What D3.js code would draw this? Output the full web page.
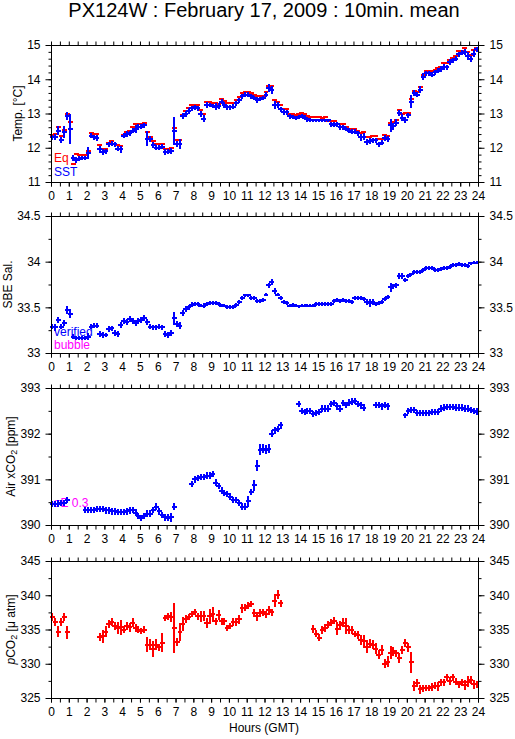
<!DOCTYPE html>
<html>
<head>
<meta charset="utf-8">
<script src="https://cdn.jsdelivr.net/npm/d3@7"></script>
<style>
body { margin: 0; background: #fff; }
svg text { font-family: "Liberation Sans", Arial, Helvetica, sans-serif; }
</style>
</head>
<body>
<div id="chart"></div>
<script>
// Global Variables :
var width = 515,
    height = 739;

var plot_left = 51,
    plot_right = 478;

var panel_tops = [45, 216, 388, 561],
    panel_h = 137;

var hour_ticks = d3.range(0, 25);

var temp_ticks = [11, 12, 13, 14, 15],
    sal_ticks = [33, 33.5, 34, 34.5],
    xco2_ticks = [390, 391, 392, 393],
    pco2_ticks = [325, 330, 335, 340, 345];

// 10 minute means, one row per hour
var sst = [
  12.30, 12.31, 12.50, 12.23, 12.45, 12.93,
  12.55, 11.70, 11.65, 11.68, 11.70, 11.70,
  11.85, 12.35, 12.30, 12.28, 11.95, 11.88,
  11.90, 12.10, 12.12, 12.10, 11.97, 11.95,
  12.35, 12.40, 12.42, 12.50, 12.55, 12.60,
  12.62, 12.65, 12.27, 12.25, 12.07, 12.00,
  12.00, 12.03, 11.88, 11.88, 11.90, 12.50,
  12.10, 12.12, 12.92, 12.98, 13.07, 13.15,
  13.18, 13.15, 12.98, 12.85, 13.25, 13.25,
  13.22, 13.20, 13.22, 13.35, 13.25, 13.18,
  13.18, 13.20, 13.30, 13.38, 13.50, 13.55,
  13.55, 13.50, 13.45, 13.40, 13.42, 13.45,
  13.55, 13.75, 13.68, 13.25, 13.25, 13.12,
  13.05, 13.03, 12.92, 12.90, 12.87, 12.90,
  12.93, 12.88, 12.83, 12.80, 12.80, 12.80,
  12.80, 12.80, 12.80, 12.80, 12.68, 12.67,
  12.68, 12.60, 12.60, 12.55, 12.50, 12.47,
  12.47, 12.42, 12.30, 12.32, 12.18, 12.20,
  12.22, 12.22, 12.10, 12.15, 12.28, 12.25,
  12.65, 12.63, 12.73, 13.02, 12.88, 12.82,
  12.95, 13.35, 13.60, 13.55, 13.70, 14.08,
  14.17, 14.17, 14.13, 14.20, 14.25, 14.30,
  14.37, 14.35, 14.50, 14.55, 14.60, 14.73,
  14.78, 14.80, 14.68, 14.60, 14.75, 14.87
];
var sst_sd = [
  .05,.05,.10,.05,.15,.08,  .40,.05,.06,.05,.04,.04,
  .15,.05,.04,.05,.08,.05,  .04,.05,.05,.05,.05,.08,
  .05,.05,.05,.05,.08,.05,  .04,.05,.18,.06,.06,.05,
  .05,.04,.05,.04,.05,.38,  .06,.12,.06,.05,.05,.05,
  .05,.05,.05,.08,.05,.04,  .04,.07,.07,.05,.05,.05,
  .05,.05,.05,.05,.05,.05,  .05,.05,.04,.05,.04,.04,
  .05,.08,.08,.08,.05,.05,  .05,.04,.04,.04,.04,.04,
  .04,.04,.04,.03,.02,.02,  .02,.02,.02,.02,.04,.04,
  .04,.04,.04,.04,.04,.04,  .04,.05,.07,.07,.06,.05,
  .04,.04,.05,.05,.05,.06,  .15,.07,.08,.05,.07,.06,
  .05,.15,.06,.05,.06,.08,  .05,.04,.04,.05,.04,.05,
  .06,.05,.05,.05,.05,.05,  .05,.05,.10,.06,.07,.05
];
var teq = [
  12.38, 12.40, 12.60, 12.33, 12.52, 13.00,
  12.75, 11.52, 11.83, 11.80, 11.80, 11.78,
  11.90, 12.42, 12.40, 12.40, 12.07, 11.97,
  11.97, 12.15, 12.20, 12.10, 12.07, 12.05,
  12.38, 12.45, 12.50, 12.60, 12.68, 12.68,
  12.70, 12.73, 12.45, 12.30, 12.20, 12.12,
  12.12, 12.10, 11.97, 11.97, 11.98, 12.57,
  12.23, 12.23, 12.97, 13.07, 13.15, 13.25,
  13.25, 13.25, 13.10, 13.00, 13.33, 13.33,
  13.30, 13.30, 13.28, 13.42, 13.37, 13.30,
  13.30, 13.32, 13.40, 13.48, 13.60, 13.63,
  13.63, 13.60, 13.55, 13.50, 13.50, 13.52,
  13.62, 13.80, 13.80, 13.40, 13.35, 13.25,
  13.13, 13.13, 13.00, 12.98, 12.97, 13.00,
  13.02, 12.98, 12.92, 12.90, 12.90, 12.90,
  12.90, 12.88, 12.90, 12.77, 12.77, 12.78,
  12.70, 12.70, 12.70, 12.62, 12.55, 12.55,
  12.55, 12.50, 12.42, 12.45, 12.30, 12.30,
  12.33, 12.33, 12.25, 12.25, 12.38, 12.35,
  12.72, 12.75, 12.80, 13.10, 13.00, 13.02,
  13.02, 13.42, 13.65, 13.63, 13.78, 14.13,
  14.25, 14.25, 14.23, 14.27, 14.32, 14.37,
  14.47, 14.47, 14.57, 14.63, 14.68, 14.83,
  14.83, 14.92, 14.80, 14.72, 14.85, 14.90
];

var sal = [
  33.29, 33.28, 33.36, 33.29, 33.33, 33.47,
  33.43, 33.18, 33.16, 33.16, 33.16, 33.16,
  33.18, 33.29, 33.30, 33.30, 33.21, 33.20,
  33.20, 33.26, 33.27, 33.22, 33.21, 33.31,
  33.35, 33.34, 33.37, 33.35, 33.33, 33.35,
  33.36, 33.38, 33.34, 33.29, 33.28, 33.28,
  33.29, 33.28, 33.21, 33.20, 33.22, 33.38,
  33.32, 33.30, 33.44, 33.48, 33.50, 33.53,
  33.54, 33.54, 33.52, 33.52, 33.54, 33.55,
  33.55, 33.55, 33.54, 33.52, 33.52, 33.50,
  33.50, 33.50, 33.53, 33.56, 33.60, 33.63,
  33.63, 33.60, 33.60, 33.57, 33.57, 33.58,
  33.64, 33.74, 33.78, 33.68, 33.64, 33.60,
  33.56, 33.55, 33.52, 33.53, 33.52, 33.51,
  33.52, 33.52, 33.52, 33.52, 33.52, 33.54,
  33.54, 33.54, 33.54, 33.54, 33.54, 33.57,
  33.58, 33.57, 33.58, 33.57, 33.57, 33.56,
  33.60, 33.60, 33.60, 33.59, 33.56, 33.55,
  33.56, 33.54, 33.55, 33.56, 33.59, 33.61,
  33.72, 33.73, 33.74, 33.84, 33.84, 33.80,
  33.84, 33.86, 33.89, 33.89, 33.89, 33.91,
  33.93, 33.93, 33.93, 33.91, 33.91, 33.92,
  33.93, 33.93, 33.94, 33.96, 33.96, 33.97,
  33.96, 33.96, 33.95, 33.98, 33.99, 33.99
];
var sal_sd = [
  .02,.03,.02,.02,.02,.03,  .04,.02,.01,.01,.01,.01,
  .03,.02,.02,.02,.02,.02,  .01,.02,.02,.02,.02,.02,
  .02,.02,.02,.02,.02,.02,  .02,.02,.02,.02,.02,.02,
  .02,.02,.02,.02,.02,.06,  .02,.03,.02,.02,.02,.02,
  .01,.01,.01,.02,.01,.01,  .01,.01,.01,.01,.01,.01,
  .01,.01,.01,.01,.01,.01,  .01,.01,.01,.01,.01,.01,
  .01,.02,.02,.02,.01,.01,  .01,.01,.01,.01,.01,.01,
  .01,.01,.01,.01,.01,.01,  .01,.01,.01,.01,.01,.01,
  .01,.01,.01,.01,.01,.01,  .01,.01,.01,.01,.02,.03,
  .02,.01,.01,.01,.01,.01,  .04,.02,.02,.02,.02,.01,
  .01,.01,.01,.01,.01,.01,  .01,.01,.01,.01,.01,.01,
  .01,.01,.01,.01,.01,.01,  .01,.01,.01,.01,.01,.01
];

var xco2 = [
  390.46, 390.46, 390.47, 390.48, 390.48, 390.55,
  null, null, null, null, null, 390.33,
  390.33, 390.33, 390.33, 390.35, 390.35, 390.35,
  390.32, 390.32, 390.30, 390.30, 390.28, 390.28,
  390.28, 390.30, 390.32, 390.33, 390.27, 390.20,
  390.15, 390.20, 390.25, 390.25, 390.33, 390.40,
  390.30, 390.22, 390.17, 390.16, 390.17, 390.40,
  null, null, null, null, null, 390.90,
  391.00, 391.03, 391.05, 391.05, 391.08, 391.08,
  391.12, 390.93, 390.85, 390.75, 390.70, 390.68,
  390.62, 390.55, 390.55, 390.48, 390.40, 390.40,
  390.52, 390.72, 390.87, 391.30, 391.65, 391.67,
  391.65, 391.67, 392.00, 392.07, 392.10, 392.18,
  null, null, null, null, null, 392.65,
  392.50, 392.47, 392.50, 392.50, 392.43, 392.45,
  392.47, 392.55, 392.55, 392.55, 392.65, 392.67,
  392.60, 392.55, 392.67, 392.63, 392.68, 392.70,
  392.72, 392.65, 392.62, 392.57, null, null,
  null, 392.63, 392.63, 392.60, 392.63, 392.60,
  null, null, null, null, null, 392.40,
  392.50, 392.52, 392.52, 392.45, 392.45, 392.45,
  392.45, 392.45, 392.47, 392.47, 392.47, 392.55,
  392.57, 392.58, 392.58, 392.58, 392.57, 392.57,
  392.57, 392.55, 392.55, 392.52, 392.50, 392.48
];
var xco2_sd = [
  .05,.05,.05,.05,.05,.05,  null,null,null,null,null,.05,
  .05,.05,.05,.05,.05,.05,  .05,.05,.05,.05,.05,.05,
  .05,.05,.05,.05,.05,.05,  .05,.05,.05,.05,.05,.05,
  .05,.05,.05,.05,.08,.05,  null,null,null,null,null,.05,
  .05,.05,.05,.05,.05,.05,  .05,.05,.05,.05,.05,.05,
  .05,.05,.05,.05,.05,.05,  .10,.05,.10,.10,.10,.08,
  .08,.08,.05,.05,.05,.05,  null,null,null,null,null,.05,
  .05,.05,.05,.05,.05,.05,  .05,.05,.05,.05,.05,.05,
  .05,.05,.05,.05,.05,.05,  .05,.05,.05,.05,null,null,
  null,.05,.05,.05,.05,.05,  null,null,null,null,null,.04,
  .05,.05,.05,.05,.05,.05,  .05,.05,.05,.05,.05,.05,
  .05,.05,.05,.05,.05,.05,  .05,.05,.05,.05,.05,.05
];

var pco2 = [
  336.8, 336.1, 334.7, 336.1, 336.8, 334.6,
  null, null, null, null, null, null,
  null, null, null, null, 333.9, 334.0,
  334.7, 335.8, 336.1, 335.5, 335.2, 335.3,
  335.0, 335.5, 335.3, 336.0, 335.2, 335.0,
  334.8, 335.0, 332.8, 332.8, 332.2, 332.8,
  332.4, 333.1, 336.7, 336.9, 336.8, 335.2,
  333.2, 334.6, 335.8, 336.5, 336.8, 337.3,
  337.6, 336.9, 336.9, 337.0, 336.0, 336.9,
  337.2, 336.2, 337.1, 336.2, 336.2, 335.2,
  335.5, 336.1, 336.1, 336.5, 338.1, 338.2,
  338.5, 338.7, 337.4, 336.9, 337.4, 337.5,
  337.2, 337.8, 337.5, 339.2, 340.1, 338.8,
  null, null, null, null, null, null,
  null, null, null, null, 335.1, 334.4,
  333.8, 334.9, 335.2, 335.7, 336.0, 336.3,
  335.1, 335.6, 336.0, 335.5, 334.9, 334.9,
  334.4, 334.2, 333.5, 333.3, 332.5, 332.9,
  332.8, 332.2, 331.3, 332.0, 330.0, 330.3,
  331.6, 331.8, 331.5, 330.8, 332.0, 333.0,
  332.4, 330.2, 326.8, 327.2, 326.3, 326.4,
  326.4, 326.4, 326.6, 326.8, 326.7, 327.3,
  327.3, 328.0, 327.5, 328.0, 327.4, 327.0,
  327.3, 326.9, 327.4, 327.6, 327.0, 327.0
];
var pco2_sd = [
  .4,.4,.7,.5,.4,.8,  null,null,null,null,null,null,
  null,null,null,null,.4,.8,  .7,.5,.4,.4,.7,.9,
  .3,.4,.5,.5,.4,.4,  .3,.3,1.0,.7,1.0,.7,
  .4,1.2,.3,.3,.6,3.5,  .4,1.2,.9,.4,.3,.3,
  .3,.3,.6,.6,.6,1.0,  1.0,.4,.6,.4,.4,.3,
  .3,.4,.4,.5,.5,.4,  .3,.3,.4,.5,.4,.4,
  .4,.5,.4,.8,.5,.4,  null,null,null,null,null,null,
  null,null,null,null,.4,.4,  .4,.4,.4,.4,.4,.4,
  .8,.5,.5,1.0,.4,.4,  .3,.4,.6,.8,.8,.5,
  .5,.7,.5,.6,.5,.7,  .8,.5,.4,.6,.5,.4,
  .5,1.4,.6,.5,.5,.4,  .3,.3,.4,.4,.5,.4,
  .4,.4,.4,.4,.4,.4,  .4,.6,.6,.4,.5,.4
];

var title_text = "PX124W : February 17, 2009 : 10min. mean";

// Svg :
var svg = d3.select("#chart").append("svg")
  .attr("width", width)
  .attr("height", height);

svg.append("rect").attr("width", width).attr("height", height).attr("fill", "white");

var x = d3.scaleLinear().domain([0, 24]).range([plot_left, plot_right]);

svg.append("text")
  .attr("x", 264).attr("y", 17)
  .attr("text-anchor", "middle")
  .attr("font-size", 20)
  .text(title_text);

svg.append("text")
  .attr("x", 264).attr("y", 732)
  .attr("text-anchor", "middle")
  .attr("font-size", 12)
  .text("Hours (GMT)");

function minor_range(a, b, step) {
  var out = [];
  for (var v = a; v <= b + 1e-9; v += step) out.push(v);
  return out;
}

function clean_axis(g) {
  g.select(".domain").remove();
  g.attr("font-size", 12).attr("font-family", null);
  g.selectAll("line").attr("stroke", "black");
}

function draw_axes(g, y, top, ticks, minor) {
  var fmt = function(d) { return String(d); };

  g.append("g").attr("transform", "translate(" + (plot_left + 0.5) + ",0)")
    .call(d3.axisLeft(y).tickValues(minor).tickSize(3).tickFormat(""))
    .call(clean_axis);
  g.append("g").attr("transform", "translate(" + (plot_left + 0.5) + ",0)")
    .call(d3.axisLeft(y).tickValues(ticks).tickSize(6).tickPadding(5).tickFormat(fmt))
    .call(clean_axis);
  g.append("g").attr("transform", "translate(" + (plot_right + 0.5) + ",0)")
    .call(d3.axisRight(y).tickValues(minor).tickSize(3).tickFormat(""))
    .call(clean_axis);
  g.append("g").attr("transform", "translate(" + (plot_right + 0.5) + ",0)")
    .call(d3.axisRight(y).tickValues(ticks).tickSize(6).tickPadding(5).tickFormat(fmt))
    .call(clean_axis);

  g.append("g").attr("transform", "translate(0," + (top + 0.5) + ")")
    .call(d3.axisTop(x).tickValues(minor_range(0, 24, 0.5)).tickSize(4).tickFormat(""))
    .call(clean_axis);
  g.append("g").attr("transform", "translate(0," + (top + panel_h + 0.5) + ")")
    .call(d3.axisBottom(x).tickValues(minor_range(0, 24, 0.5)).tickSize(4).tickFormat(""))
    .call(clean_axis);
  g.append("g").attr("transform", "translate(0," + (top + panel_h + 0.5) + ")")
    .call(d3.axisBottom(x).tickValues(hour_ticks).tickSize(4).tickPadding(5).tickFormat(fmt))
    .call(clean_axis);

  g.append("rect")
    .attr("x", plot_left + 0.5).attr("y", top + 0.5)
    .attr("width", plot_right - plot_left).attr("height", panel_h)
    .attr("fill", "none").attr("stroke", "black");
}

// each 10 min mean : horizontal bar over the interval, vertical bar = std dev
function draw_series(g, y, values, sd, color) {
  var pts = values.map(function(v, i) {
      return {t: i / 6, v: v, e: sd ? sd[i] : 0};
    })
    .filter(function(d) { return d.v != null; });

  g.append("g").selectAll("path")
    .data(pts)
    .enter().append("path")
    .attr("d", function(d) {
      var x0 = Math.round(x(d.t)),
          x1 = Math.round(x(d.t + 1 / 6)),
          xc = Math.round(x(d.t + 1 / 12)),
          yv = Math.round(y(d.v));
      var s = "M" + x0 + "," + yv + "H" + x1;
      if (d.e > 0) {
        s += "M" + xc + "," + Math.round(y(d.v + d.e)) + "V" + Math.round(y(d.v - d.e));
      }
      return s;
    })
    .attr("fill", "none")
    .attr("stroke", color)
    .attr("stroke-width", 2)
    .attr("stroke-linecap", "square")
    .attr("shape-rendering", "crispEdges");
}

function y_title(g, cx, cy, parts) {
  var t = g.append("text")
    .attr("transform", "translate(" + cx + "," + cy + ") rotate(-90)")
    .attr("text-anchor", "middle")
    .attr("font-size", 12);
  parts.forEach(function(p) {
    var s = t.append("tspan").text(p.text);
    if (p.sub) s.attr("baseline-shift", "-25%").attr("font-size", 9);
    if (p.italic) s.attr("font-style", "italic");
  });
}

function legend_text(g, x0, y0, txt, color) {
  g.append("text").attr("x", x0).attr("y", y0)
    .attr("font-size", 12).attr("fill", color).text(txt);
}

// Panel 1 : temperature
(function() {
  var top = panel_tops[0];
  var y = d3.scaleLinear().domain([11, 15]).range([top + panel_h, top]);
  var g = svg.append("g");
  legend_text(g, 54, 162, "Eq", "#ff0000");
  legend_text(g, 54, 176, "SST", "#0000ff");
  draw_series(g, y, teq, null, "#ff0000");
  draw_series(g, y, sst, sst_sd, "#0000ff");
  draw_axes(g, y, top, temp_ticks, minor_range(11, 15, 0.2));
  y_title(g, 22, top + panel_h / 2, [{text: "Temp. [°C]"}]);
})();

// Panel 2 : salinity
(function() {
  var top = panel_tops[1];
  var y = d3.scaleLinear().domain([33, 34.5]).range([top + panel_h, top]);
  var g = svg.append("g");
  legend_text(g, 54, 336, "verified", "#0000ff");
  legend_text(g, 54, 349, "bubble", "#ff00ff");
  draw_series(g, y, sal, sal_sd, "#0000ff");
  draw_axes(g, y, top, sal_ticks, minor_range(33, 34.5, 0.25));
  y_title(g, 12, top + panel_h / 2, [{text: "SBE Sal."}]);
})();

// Panel 3 : air xCO2
(function() {
  var top = panel_tops[2];
  var y = d3.scaleLinear().domain([390, 393]).range([top + panel_h, top]);
  var g = svg.append("g");
  legend_text(g, 53, 507, "σE 0.3", "#ff00ff");
  draw_series(g, y, xco2, xco2_sd, "#0000ff");
  draw_axes(g, y, top, xco2_ticks, minor_range(390, 393, 0.5));
  y_title(g, 15, top + panel_h / 2, [{text: "Air xCO"}, {text: "2", sub: true}, {text: " [ppm]"}]);
})();

// Panel 4 : pCO2
(function() {
  var top = panel_tops[3];
  var y = d3.scaleLinear().domain([325, 345]).range([top + panel_h, top]);
  var g = svg.append("g");
  draw_series(g, y, pco2, pco2_sd, "#ff0000");
  draw_axes(g, y, top, pco2_ticks, minor_range(325, 345, 2.5));
  y_title(g, 15, top + panel_h / 2, [{text: "p", italic: true}, {text: "CO"}, {text: "2", sub: true}, {text: " [μ atm]"}]);
})();
</script>
</body>
</html>
